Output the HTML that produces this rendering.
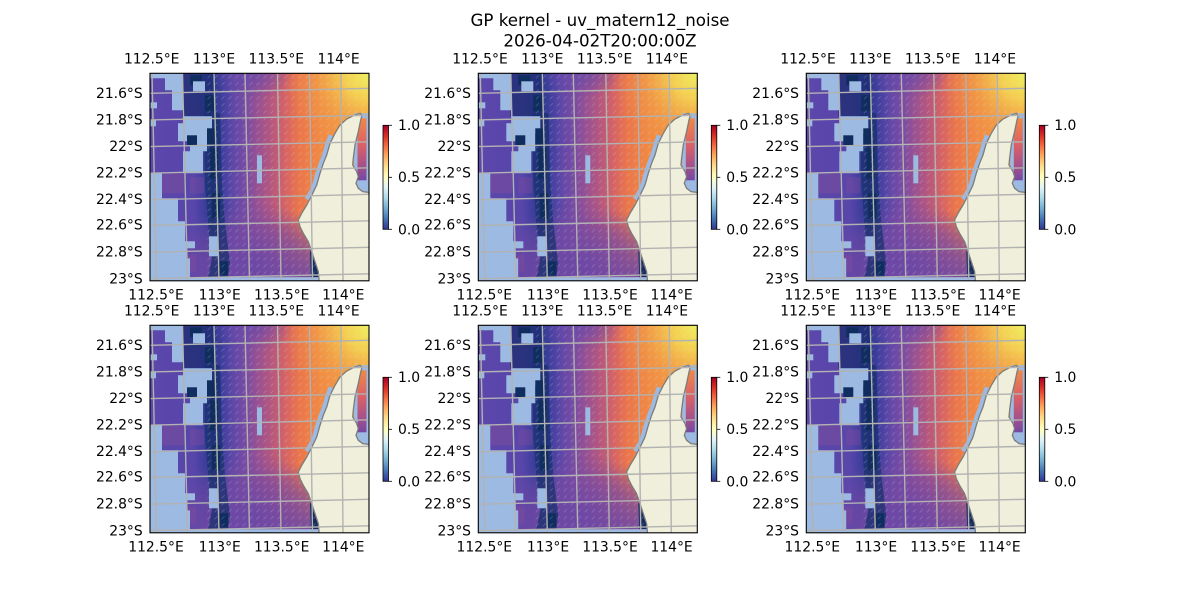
<!DOCTYPE html>
<html><head><meta charset="utf-8"><style>
html,body{margin:0;padding:0;background:#fff;}
svg{display:block;}
text{font-family:"DejaVu Sans","Liberation Sans",sans-serif;fill:#000;}
.t{font-size:13.9px;}
.m{text-anchor:middle;}
.e{text-anchor:end;}
</style></head><body>
<svg width="1200" height="600" viewBox="0 0 1200 600" xmlns="http://www.w3.org/2000/svg" xmlns:xlink="http://www.w3.org/1999/xlink">
<defs>
 <linearGradient id="gx" gradientUnits="userSpaceOnUse" x1="0" y1="0" x2="219" y2="0">
  <stop offset="0" stop-color="#5c47ab"/>
  <stop offset="0.20" stop-color="#5846aa"/>
  <stop offset="0.25" stop-color="#3e3e9c"/>
  <stop offset="0.29" stop-color="#2e3a8c"/>
  <stop offset="0.33" stop-color="#403f9e"/>
  <stop offset="0.38" stop-color="#6048a8"/>
  <stop offset="0.44" stop-color="#7a4ca2"/>
  <stop offset="0.50" stop-color="#9c5290"/>
  <stop offset="0.56" stop-color="#b8587c"/>
  <stop offset="0.62" stop-color="#d66464"/>
  <stop offset="0.68" stop-color="#ea764c"/>
  <stop offset="0.78" stop-color="#f08a44"/>
  <stop offset="1" stop-color="#f29e46"/>
 </linearGradient>
 <linearGradient id="gy" gradientUnits="userSpaceOnUse" x1="0" y1="140" x2="0" y2="200">
  <stop offset="0" stop-color="#6a4aa8" stop-opacity="0"/>
  <stop offset="1" stop-color="#6446a8" stop-opacity="0.8"/>
 </linearGradient>
 <radialGradient id="gbot" gradientUnits="userSpaceOnUse" cx="0" cy="0" r="1" gradientTransform="translate(105 190) scale(75 62)">
  <stop offset="0" stop-color="#6c48a6" stop-opacity="0.8"/>
  <stop offset="0.6" stop-color="#7a4aa0" stop-opacity="0.5"/>
  <stop offset="1" stop-color="#7a4aa0" stop-opacity="0"/>
 </radialGradient>
 <radialGradient id="gyel" gradientUnits="userSpaceOnUse" cx="219" cy="0" r="85">
  <stop offset="0" stop-color="#eef060"/>
  <stop offset="0.3" stop-color="#f4d452" stop-opacity="0.9"/>
  <stop offset="0.65" stop-color="#f2a848" stop-opacity="0.4"/>
  <stop offset="1" stop-color="#f09048" stop-opacity="0"/>
 </radialGradient>
 <radialGradient id="gtop" gradientUnits="userSpaceOnUse" cx="0" cy="0" r="1" gradientTransform="translate(102 0) scale(42 26)">
  <stop offset="0" stop-color="#6a4aa8" stop-opacity="0.85"/>
  <stop offset="1" stop-color="#6a4aa8" stop-opacity="0"/>
 </radialGradient>
 <linearGradient id="gg" gradientUnits="userSpaceOnUse" x1="0" y1="44" x2="0" y2="107">
  <stop offset="0" stop-color="#f08a44"/>
  <stop offset="0.45" stop-color="#d86068"/>
  <stop offset="0.8" stop-color="#a0508c"/>
  <stop offset="1" stop-color="#7448a2"/>
 </linearGradient>
 <linearGradient id="cb" x1="0" y1="1" x2="0" y2="0">
  <stop offset="0" stop-color="#313695"/>
  <stop offset="0.1" stop-color="#4575b4"/>
  <stop offset="0.2" stop-color="#74add1"/>
  <stop offset="0.3" stop-color="#abd9e9"/>
  <stop offset="0.4" stop-color="#e0f3f8"/>
  <stop offset="0.5" stop-color="#ffffbf"/>
  <stop offset="0.6" stop-color="#fee090"/>
  <stop offset="0.7" stop-color="#fdae61"/>
  <stop offset="0.8" stop-color="#f46d43"/>
  <stop offset="0.9" stop-color="#d73027"/>
  <stop offset="1" stop-color="#a50026"/>
 </linearGradient>
 <pattern id="qv" width="7" height="7" patternUnits="userSpaceOnUse">
  <path d="M1.5,5 L4.5,2" stroke="#e4ecf8" stroke-width="0.8"/>
 </pattern>
 <clipPath id="axc"><rect x="0" y="0" width="219" height="207.5"/></clipPath>
 <clipPath id="fc"><path d="M0,5 L15,5 L15,17 L22,17 L22,37 L33,37 L33,0 L219,0 L219,204 L40,204 L40,185 L37,185 L37,168 L35,168 L35,148 L28,148 L28,125 L12,125 L12,100 L0,100 Z"/></clipPath>

 <g id="map">
  <g clip-path="url(#axc)">
   <rect x="0" y="0" width="219" height="207.5" fill="#9cbae2"/>
   <g clip-path="url(#fc)">
    <rect x="0" y="0" width="219" height="207.5" fill="url(#gx)"/>
    <rect x="0" y="0" width="219" height="207.5" fill="url(#gtop)"/>
    <rect x="0" y="0" width="219" height="207.5" fill="url(#gy)"/>
    <rect x="0" y="0" width="219" height="207.5" fill="url(#gbot)"/>
    <rect x="0" y="0" width="219" height="207.5" fill="url(#gyel)"/>
    <rect x="12" y="100" width="22" height="20" fill="#8c5096" opacity="0.35"/>
    <rect x="40" y="104" width="14" height="16" fill="#8a5098" opacity="0.3"/>
    <rect x="28" y="182" width="18" height="16" fill="#8a4c98" opacity="0.35"/>
    <rect x="32" y="0" width="33" height="43" fill="#1c2e70" opacity="0.75"/>
    <polygon points="54,40 70,40 72,110 75,150 80,190 78,204 58,204 62,185 58,150 55,110" fill="#18306c" opacity="0.72"/>
    <g fill="#0f2d5e">
     <rect x="60" y="75" width="8" height="30"/>
     <rect x="62" y="120" width="8" height="25"/>
     <rect x="68" y="188" width="10" height="14"/>
     <rect x="40" y="2" width="12" height="10"/>
     <rect x="55" y="22" width="9" height="16"/>
    </g>
    <polygon points="160,178 168,178 171,204 161,204" fill="#142c60"/>
    <rect x="55" y="0" width="164" height="204" fill="url(#qv)" opacity="0.25"/>
   </g>
   <!-- holes -->
   <g fill="#9cbae2">
    <rect x="0" y="29" width="7" height="6"/>
    <rect x="0" y="47" width="6" height="6"/>
    <rect x="43" y="8" width="12" height="10"/>
    <path d="M33,43 L62,43 L62,60 L57,60 L57,78 L53,78 L53,100 L33,100 L33,78 L40,78 L40,68 L28,68 L28,50 L33,50 Z"/>
    <rect x="35" y="168" width="10" height="7"/>
    <rect x="59" y="163" width="9" height="20"/>
    <rect x="107" y="82" width="5" height="28"/>
   </g>
   <rect x="37" y="62" width="10" height="10" fill="#0f2d5e"/>
   <rect x="57" y="55" width="8" height="17" fill="#0f2d5e"/>
   <!-- gulf -->
   <rect x="204" y="40" width="15" height="82" fill="#9cbae2"/>
   <rect x="207.5" y="45" width="9" height="62" fill="url(#gg)"/>
   <polyline points="181,62 178,70 174.7,81.7 171.3,90 168,100 164.7,111.7 160.7,120 157,126" fill="none" stroke="#9cbae2" stroke-width="5"/>
   <!-- land -->
   <path d="M210,40 L203.3,42.4 L196.7,45.7 L190,51.7 L185,60 L180,70 L176.7,81.7 L173.3,90 L170,100 L166.7,111.7 L162.7,120 L156.7,131.7 L151.7,140 L148.3,146.7 L150,153.3 L153.3,160 L158.3,168.3 L161.7,178.3 L165,188.3 L168.3,198.3 L169.3,209 L221,209 L221,119 L218.3,119 L212.7,118.3 L208.3,115 L206,110 L208.3,103.3 L206.7,98.3 L202.7,91.7 L203.3,85 L205,71.7 L208.3,58.3 L210.7,46.7 L212,42 Z" fill="#efefdb" stroke="#7c7c7c" stroke-width="1.3"/>
   <!-- grid -->
   <g stroke="#b2b2b2" stroke-width="1.4" fill="none">
    <line x1="2" y1="0" x2="6.5" y2="207.5"/>
    <line x1="32.5" y1="0" x2="37.5" y2="207.5"/>
    <line x1="64" y1="0" x2="69" y2="207.5"/>
    <line x1="95" y1="0" x2="99.5" y2="207.5"/>
    <line x1="127.5" y1="0" x2="131" y2="207.5"/>
    <line x1="159.5" y1="0" x2="162.5" y2="207.5"/>
    <line x1="191" y1="0" x2="193" y2="207.5"/>
    <line x1="0" y1="20" x2="219" y2="15"/>
    <line x1="0" y1="46.6" x2="219" y2="42"/>
    <line x1="0" y1="73.3" x2="219" y2="68.5"/>
    <line x1="0" y1="99.9" x2="219" y2="94.5"/>
    <line x1="0" y1="126.5" x2="219" y2="121"/>
    <line x1="0" y1="152.2" x2="219" y2="147.5"/>
    <line x1="0" y1="178.9" x2="219" y2="174"/>
    <line x1="0" y1="205.4" x2="219" y2="200.5"/>
   </g>
  </g>
  <rect x="0" y="0" width="219" height="207.5" fill="none" stroke="#000" stroke-width="1.1"/>
  <!-- colorbar -->
  <rect x="233" y="52" width="5.5" height="104" fill="url(#cb)" stroke="#000" stroke-width="0.8"/>
  <g stroke="#000" stroke-width="0.8">
   <line x1="238.5" y1="52" x2="242" y2="52"/>
   <line x1="238.5" y1="104" x2="242" y2="104"/>
   <line x1="238.5" y1="156" x2="242" y2="156"/>
  </g>
 </g>
</defs>

<text x="600" y="26" font-size="16.67" text-anchor="middle">GP kernel - uv_matern12_noise</text>
<text x="600" y="46.7" font-size="16.67" text-anchor="middle">2026-04-02T20:00:00Z</text>

<!-- Panel 1 -->
<g transform="translate(150,73.3)">
 <use xlink:href="#map" href="#map"/>
 <g class="t">
  <text class="m" x="1.7" y="-9.8">112.5°E</text><text class="m" x="64" y="-9.8">113°E</text><text class="m" x="126.3" y="-9.8">113.5°E</text><text class="m" x="188.6" y="-9.8">114°E</text>
  <text class="m" x="6" y="226">112.5°E</text><text class="m" x="69.7" y="226">113°E</text><text class="m" x="131.7" y="226">113.5°E</text><text class="m" x="193.3" y="226">114°E</text>
  <text class="e" x="-7.3" y="24.7">21.6°S</text><text class="e" x="-7.3" y="51.3">21.8°S</text><text class="e" x="-7.3" y="77.6">22°S</text><text class="e" x="-7.3" y="104.1">22.2°S</text><text class="e" x="-7.3" y="130.7">22.4°S</text><text class="e" x="-7.3" y="156.4">22.6°S</text><text class="e" x="-7.3" y="183.1">22.8°S</text><text class="e" x="-7.3" y="210.2">23°S</text>
  <text x="248" y="56.7">1.0</text><text x="248" y="108.7">0.5</text><text x="248" y="161">0.0</text>
 </g>
</g>
<!-- Panel 2 -->
<g transform="translate(478.3,73.3)">
 <use xlink:href="#map" href="#map"/>
 <g class="t">
  <text class="m" x="1.7" y="-9.8">112.5°E</text><text class="m" x="64" y="-9.8">113°E</text><text class="m" x="126.3" y="-9.8">113.5°E</text><text class="m" x="188.6" y="-9.8">114°E</text>
  <text class="m" x="6" y="226">112.5°E</text><text class="m" x="69.7" y="226">113°E</text><text class="m" x="131.7" y="226">113.5°E</text><text class="m" x="193.3" y="226">114°E</text>
  <text class="e" x="-7.3" y="24.7">21.6°S</text><text class="e" x="-7.3" y="51.3">21.8°S</text><text class="e" x="-7.3" y="77.6">22°S</text><text class="e" x="-7.3" y="104.1">22.2°S</text><text class="e" x="-7.3" y="130.7">22.4°S</text><text class="e" x="-7.3" y="156.4">22.6°S</text><text class="e" x="-7.3" y="183.1">22.8°S</text><text class="e" x="-7.3" y="210.2">23°S</text>
  <text x="248" y="56.7">1.0</text><text x="248" y="108.7">0.5</text><text x="248" y="161">0.0</text>
 </g>
</g>
<!-- Panel 3 -->
<g transform="translate(806.3,73.3)">
 <use xlink:href="#map" href="#map"/>
 <g class="t">
  <text class="m" x="1.7" y="-9.8">112.5°E</text><text class="m" x="64" y="-9.8">113°E</text><text class="m" x="126.3" y="-9.8">113.5°E</text><text class="m" x="188.6" y="-9.8">114°E</text>
  <text class="m" x="6" y="226">112.5°E</text><text class="m" x="69.7" y="226">113°E</text><text class="m" x="131.7" y="226">113.5°E</text><text class="m" x="193.3" y="226">114°E</text>
  <text class="e" x="-7.3" y="24.7">21.6°S</text><text class="e" x="-7.3" y="51.3">21.8°S</text><text class="e" x="-7.3" y="77.6">22°S</text><text class="e" x="-7.3" y="104.1">22.2°S</text><text class="e" x="-7.3" y="130.7">22.4°S</text><text class="e" x="-7.3" y="156.4">22.6°S</text><text class="e" x="-7.3" y="183.1">22.8°S</text><text class="e" x="-7.3" y="210.2">23°S</text>
  <text x="248" y="56.7">1.0</text><text x="248" y="108.7">0.5</text><text x="248" y="161">0.0</text>
 </g>
</g>
<!-- Panel 4 -->
<g transform="translate(150,325.3)">
 <use xlink:href="#map" href="#map"/>
 <g class="t">
  <text class="m" x="1.7" y="-9.8">112.5°E</text><text class="m" x="64" y="-9.8">113°E</text><text class="m" x="126.3" y="-9.8">113.5°E</text><text class="m" x="188.6" y="-9.8">114°E</text>
  <text class="m" x="6" y="226">112.5°E</text><text class="m" x="69.7" y="226">113°E</text><text class="m" x="131.7" y="226">113.5°E</text><text class="m" x="193.3" y="226">114°E</text>
  <text class="e" x="-7.3" y="24.7">21.6°S</text><text class="e" x="-7.3" y="51.3">21.8°S</text><text class="e" x="-7.3" y="77.6">22°S</text><text class="e" x="-7.3" y="104.1">22.2°S</text><text class="e" x="-7.3" y="130.7">22.4°S</text><text class="e" x="-7.3" y="156.4">22.6°S</text><text class="e" x="-7.3" y="183.1">22.8°S</text><text class="e" x="-7.3" y="210.2">23°S</text>
  <text x="248" y="56.7">1.0</text><text x="248" y="108.7">0.5</text><text x="248" y="161">0.0</text>
 </g>
</g>
<!-- Panel 5 -->
<g transform="translate(478.3,325.3)">
 <use xlink:href="#map" href="#map"/>
 <g class="t">
  <text class="m" x="1.7" y="-9.8">112.5°E</text><text class="m" x="64" y="-9.8">113°E</text><text class="m" x="126.3" y="-9.8">113.5°E</text><text class="m" x="188.6" y="-9.8">114°E</text>
  <text class="m" x="6" y="226">112.5°E</text><text class="m" x="69.7" y="226">113°E</text><text class="m" x="131.7" y="226">113.5°E</text><text class="m" x="193.3" y="226">114°E</text>
  <text class="e" x="-7.3" y="24.7">21.6°S</text><text class="e" x="-7.3" y="51.3">21.8°S</text><text class="e" x="-7.3" y="77.6">22°S</text><text class="e" x="-7.3" y="104.1">22.2°S</text><text class="e" x="-7.3" y="130.7">22.4°S</text><text class="e" x="-7.3" y="156.4">22.6°S</text><text class="e" x="-7.3" y="183.1">22.8°S</text><text class="e" x="-7.3" y="210.2">23°S</text>
  <text x="248" y="56.7">1.0</text><text x="248" y="108.7">0.5</text><text x="248" y="161">0.0</text>
 </g>
</g>
<!-- Panel 6 -->
<g transform="translate(806.3,325.3)">
 <use xlink:href="#map" href="#map"/>
 <g class="t">
  <text class="m" x="1.7" y="-9.8">112.5°E</text><text class="m" x="64" y="-9.8">113°E</text><text class="m" x="126.3" y="-9.8">113.5°E</text><text class="m" x="188.6" y="-9.8">114°E</text>
  <text class="m" x="6" y="226">112.5°E</text><text class="m" x="69.7" y="226">113°E</text><text class="m" x="131.7" y="226">113.5°E</text><text class="m" x="193.3" y="226">114°E</text>
  <text class="e" x="-7.3" y="24.7">21.6°S</text><text class="e" x="-7.3" y="51.3">21.8°S</text><text class="e" x="-7.3" y="77.6">22°S</text><text class="e" x="-7.3" y="104.1">22.2°S</text><text class="e" x="-7.3" y="130.7">22.4°S</text><text class="e" x="-7.3" y="156.4">22.6°S</text><text class="e" x="-7.3" y="183.1">22.8°S</text><text class="e" x="-7.3" y="210.2">23°S</text>
  <text x="248" y="56.7">1.0</text><text x="248" y="108.7">0.5</text><text x="248" y="161">0.0</text>
 </g>
</g>
</svg>
</body></html>
